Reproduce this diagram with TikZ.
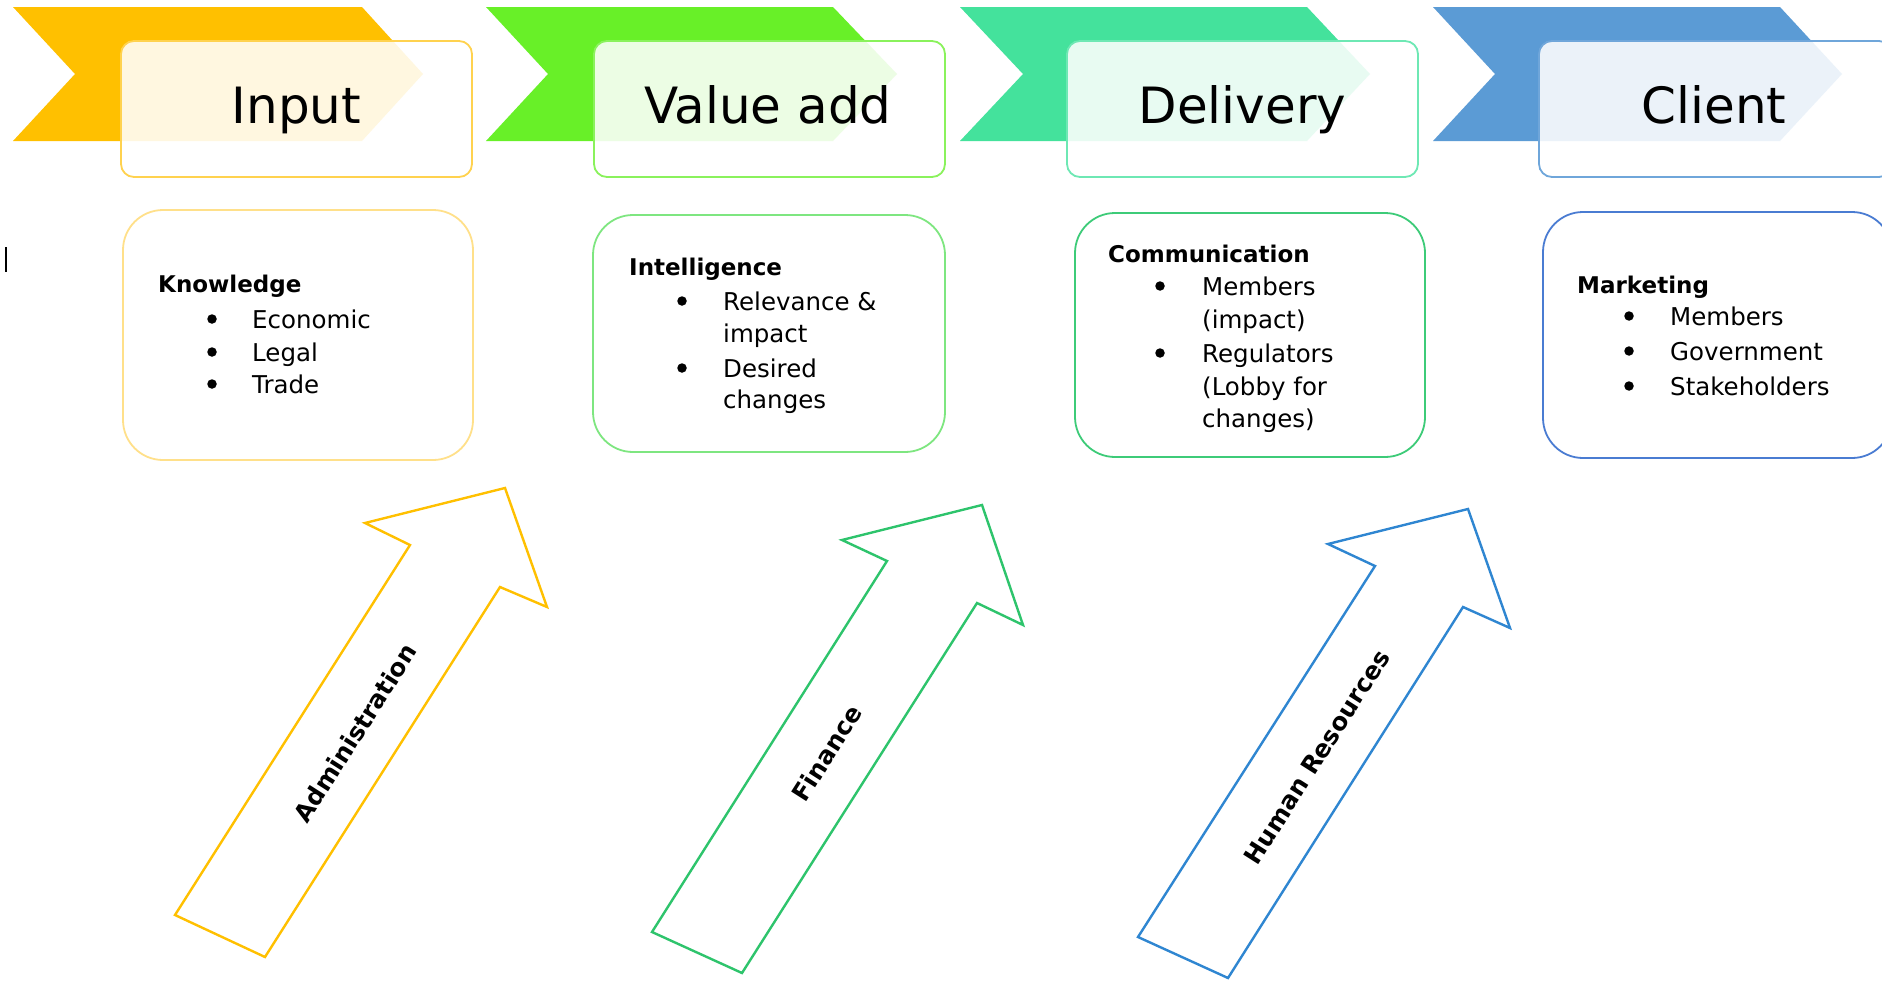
\documentclass[tikz,border=0pt]{standalone}
\usepackage{fontspec}
\setmainfont{DejaVu Sans}
\definecolor{cInput}{HTML}{FFC000}
\definecolor{cValue}{HTML}{68F028}
\definecolor{cDeliv}{HTML}{44E29C}
\definecolor{cClient}{HTML}{5B9BD5}
\definecolor{bInput}{HTML}{FFD24F}
\definecolor{bValue}{HTML}{8AF25C}
\definecolor{bDeliv}{HTML}{6EE8B4}
\definecolor{bClient}{HTML}{6FA6DA}
\definecolor{lKnow}{HTML}{FFE08A}
\definecolor{lIntel}{HTML}{7EE680}
\definecolor{lComm}{HTML}{3DCB78}
\definecolor{lMark}{HTML}{4A7CD2}
\definecolor{aAdmin}{HTML}{FFC000}
\definecolor{aFin}{HTML}{2EC46C}
\definecolor{aHR}{HTML}{2F86D1}
\begin{document}
\begin{tikzpicture}[x=1pt,y=-1pt,
  topbox/.style={rectangle, rounded corners=13pt, line width=1.8pt, fill=white, fill opacity=0.88,
    minimum width=351pt, minimum height=136pt, inner sep=0pt},
  lowbox/.style={rectangle, rounded corners=40pt, line width=1.8pt, fill=white,
    minimum width=350pt, inner sep=0pt},
  titletext/.style={anchor=base, inner sep=0pt, font=\fontsize{50}{60}\selectfont},
  headtext/.style={anchor=base west, inner sep=0pt, font=\fontsize{23}{28}\selectfont\bfseries},
  itemtext/.style={anchor=base west, inner sep=0pt, font=\fontsize{24.5}{30}\selectfont},
  bul/.style={circle, fill=black, minimum size=9.5pt, inner sep=0pt},
  bigarrow/.style={line width=2.4pt, line join=miter, fill=white},
  arrowlabel/.style={inner sep=0pt, rotate=57.5, font=\fontsize{24.5}{30}\selectfont\bfseries}
]
\useasboundingbox (0,0) rectangle (1882,980);
\fill[white] (0,0) rectangle (1882,980);

% chevrons
\fill[cInput]  (13,7) -- (362,7) -- (423,74) -- (362,141) -- (13,141) -- (75,74) -- cycle;
\fill[cValue]  (486,7) -- (833,7) -- (897,74) -- (833,141) -- (486,141) -- (548,74) -- cycle;
\fill[cDeliv]  (960,7) -- (1307,7) -- (1370,74) -- (1307,141) -- (960,141) -- (1023,74) -- cycle;
\fill[cClient] (1433,7) -- (1780,7) -- (1842,74) -- (1780,141) -- (1433,141) -- (1495,74) -- cycle;

% top boxes
\node[topbox, draw=bInput]  (boxIn)  at (296.5,109) {};
\node[topbox, draw=bValue]  (boxVal) at (769.5,109) {};
\node[topbox, draw=bDeliv]  (boxDel) at (1242.5,109) {};
\node[topbox, draw=bClient, minimum width=353pt] (boxCli) at (1715.5,109) {};

\node[titletext] (tIn)  at (296.5,123) {Input};
\node[titletext] (tVal) at (768,123) {Value add};
\node[titletext] (tDel) at (1242.5,123) {Delivery};
\node[titletext] (tCli) at (1714,123) {Client};

% lower boxes
\node[lowbox, draw=lKnow, minimum height=250pt] (bxKnow) at (298,335) {};
\node[lowbox, draw=lIntel, minimum width=352pt, minimum height=237pt] (bxIntel) at (769,333.5) {};
\node[lowbox, draw=lComm, minimum height=244pt] (bxComm) at (1250,335) {};
\node[lowbox, draw=lMark, minimum width=349pt, minimum height=246pt] (bxMark) at (1717.5,335) {};

% Knowledge
\node[headtext] (hKnow) at (158,292) {Knowledge};
\node[bul] (kb1) at (212,319) {};
\node[bul] (kb2) at (212,352) {};
\node[bul] (kb3) at (212,384) {};
\node[itemtext] (k1) at (252,328) {Economic};
\node[itemtext] (k2) at (252,361) {Legal};
\node[itemtext] (k3) at (252,393) {Trade};

% Intelligence
\node[headtext] (hIntel) at (629,275) {Intelligence};
\node[bul] (ib1) at (682,301) {};
\node[bul] (ib2) at (682,368) {};
\node[itemtext] (i1) at (723,310) {Relevance \&};
\node[itemtext] (i1b) at (723,342) {impact};
\node[itemtext] (i2) at (723,377) {Desired};
\node[itemtext] (i2b) at (723,408) {changes};

% Communication
\node[headtext] (hComm) at (1108,262) {Communication};
\node[bul] (cb1) at (1160,286) {};
\node[bul] (cb2) at (1160,353) {};
\node[itemtext] (c1) at (1202,295) {Members};
\node[itemtext] (c1b) at (1202,328) {(impact)};
\node[itemtext] (c2) at (1202,362) {Regulators};
\node[itemtext] (c2b) at (1202,395) {(Lobby for};
\node[itemtext] (c2c) at (1202,427) {changes)};

% Marketing
\node[headtext] (hMark) at (1577,293) {Marketing};
\node[bul] (mb1) at (1629,316) {};
\node[bul] (mb2) at (1629,351) {};
\node[bul] (mb3) at (1629,386) {};
\node[itemtext] (m1) at (1670,325) {Members};
\node[itemtext] (m2) at (1670,360) {Government};
\node[itemtext] (m3) at (1670,395) {Stakeholders};

% big arrows
\draw[bigarrow, draw=aAdmin] (175,915) -- (410,545) -- (365,523) -- (505,488) -- (547,607) -- (500,587) -- (265,957) -- cycle;
\draw[bigarrow, draw=aFin] (652,932) -- (887,561) -- (842,540) -- (982,505) -- (1023,625) -- (977,603) -- (742,973) -- cycle;
\draw[bigarrow, draw=aHR] (1138,937) -- (1375,566) -- (1328,544) -- (1468,509) -- (1510,628) -- (1463,607) -- (1228,978) -- cycle;

\node[arrowlabel] (lAdmin) at (355,733) {Administration};
\node[arrowlabel] (lFin) at (827,753) {Finance};
\node[arrowlabel] (lHR) at (1317,757) {Human Resources};

% stray text cursor
\node[rectangle, fill=black, minimum width=2pt, minimum height=25pt, inner sep=0pt] (cursor) at (6,259.5) {};
\end{tikzpicture}
\end{document}
